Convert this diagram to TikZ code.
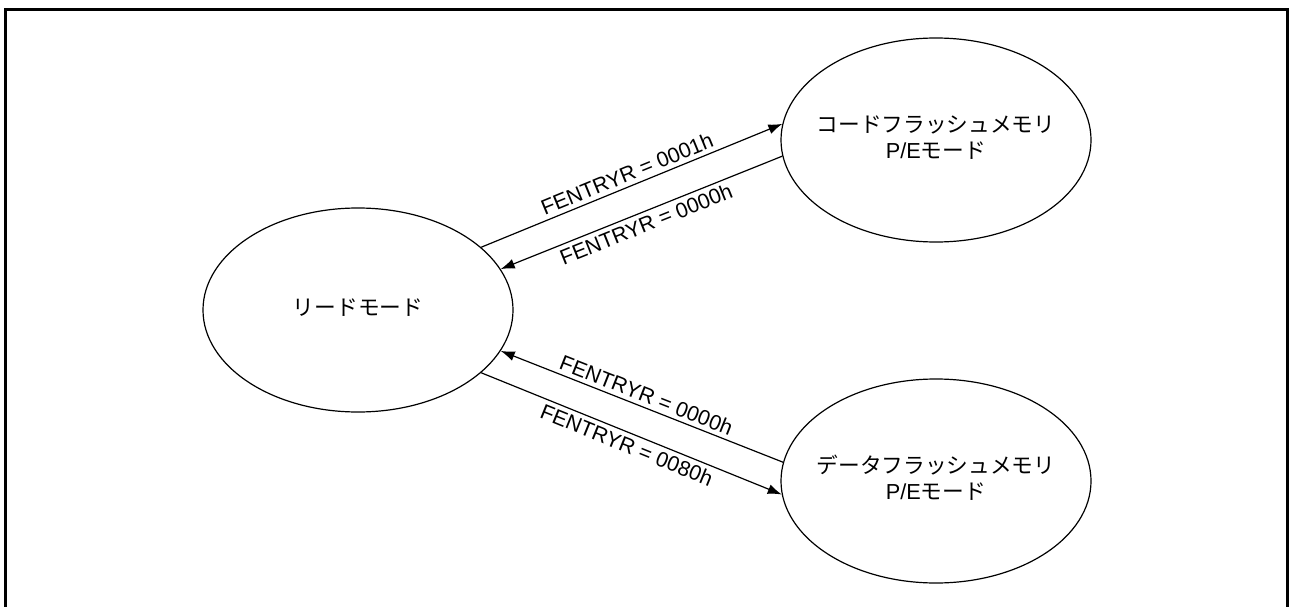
\documentclass[tikz,border=0pt]{standalone}
\usepackage{fontspec}
\setmainfont{Liberation Sans}
\newfontfamily\cjk{Noto Sans CJK JP}
\usetikzlibrary{shapes.geometric,arrows.meta}
\newcommand{\stxt}[1]{\makebox[0pt]{\begin{tabular}{@{}c@{}}#1\end{tabular}}}
\begin{document}
\begin{tikzpicture}[x=1pt,y=-1pt,
  state/.style={draw,ellipse,line width=1.2pt,minimum width=310pt,minimum height=204pt,inner sep=0pt,font=\fontsize{21.7}{26}\selectfont},
  conn/.style={line width=1.2pt,-{Latex[length=14pt,width=10pt]}},
  lab/.style={sloped,font=\fontsize{21.3}{25}\selectfont,inner sep=4pt}]
\useasboundingbox (0,0) rectangle (1289,607);
\draw[line width=3pt] (5.5,607) -- (5.5,9.5) -- (1287.5,9.5) -- (1287.5,607);
\node[state] (read) at (358,310) {\stxt{\cjk リードモード}};
\node[state] (code) at (936,140) {\stxt{{\cjk コードフラッシュメモリ}\\P/E{\cjk モード}}};
\node[state] (data) at (936,481) {\stxt{{\cjk データフラッシュメモリ}\\P/E{\cjk モード}}};
\draw[conn] (read.27) -- node[lab,above] {FENTRYR = 0001h} (code.174);
\draw[conn] (code.186) -- node[lab,below] {FENTRYR = 0000h} (read.16);
\draw[conn] (data.173) -- node[lab,above] {FENTRYR = 0000h} (read.-16);
\draw[conn] (read.-27) -- node[lab,below] {FENTRYR = 0080h} (data.185);
\end{tikzpicture}
\end{document}
